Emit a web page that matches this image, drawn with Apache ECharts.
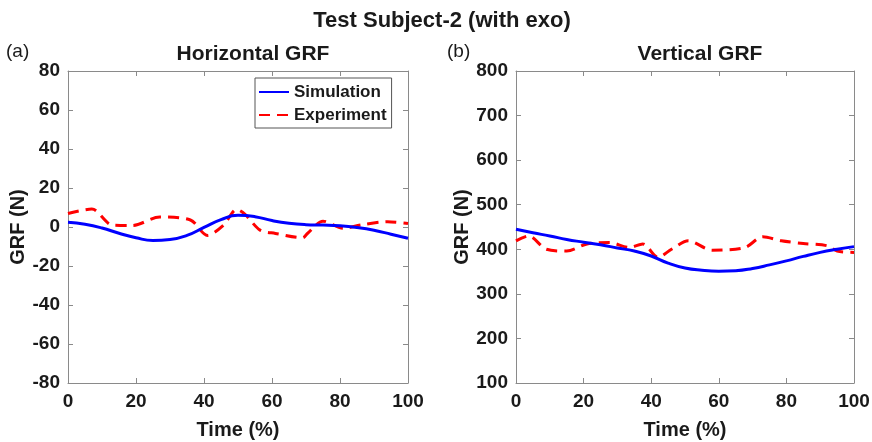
<!DOCTYPE html>
<html>
<head>
<meta charset="utf-8">
<script src="https://cdn.jsdelivr.net/npm/echarts@6/dist/echarts.min.js"></script>
<style>html,body{margin:0;padding:0;background:#fff}#c{width:872px;height:442px}</style>
</head>
<body>
<div id="c"></div>
<script>
// ---- data ----
var simTime = [0,5,10,15,20,25,30,35,40,45,50,55,60,65,70,75,80,85,90,95,100];
var horizSim = [2.4,1.4,-0.5,-3.2,-5.5,-6.9,-6.4,-4.3,-0.2,3.8,6.0,5.3,3.3,1.9,1.2,1.0,0.6,-0.3,-1.7,-3.7,-5.8];
var horizExpTime = [0,7,13,19,27,36,41,45.7,49.6,52,56.5,61,69,70.5,75,81,86,94,100];
var horizExp = [6.9,9.2,1.0,0.8,5.1,3.6,-4.3,0.9,9.0,6.6,-1.6,-3.3,-5.5,-3.2,3.0,-0.7,1.0,2.7,1.8];
var vertSim = [445,437,430,422,416,410,403,396,385,369,358,353,351,352,357,365,374,384,393,400,406];
var vertExpTime = [0,3.7,9,15,21,27.7,33.5,37.5,42,46,51,58,67.7,73,78.5,85,92,95,100];
var vertExp = [419,430,400,396,412,415,404,412,382,400,419,398,404,428,419,413,408,396,393];
var xTicks = {min:0, max:100, interval:20};
var horizTicks = {min:-80, max:80, interval:20};
var vertTicks = {min:100, max:800, interval:100};
var titles = {main:'Test Subject-2 (with exo)', a:'Horizontal GRF', b:'Vertical GRF'};
var seriesNames = ['Simulation','Experiment'];

function pairs(xs, ys){ return xs.map(function(x,i){ return [x, ys[i]]; }); }

var FONT = "'Liberation Sans', Arial, Helvetica, sans-serif";
var TXT = '#1a1a1a';
var AX = '#8a8a8a';

function xAx(grid, pos, showLabel){
  return {
    type:'value', gridIndex:grid, position:pos,
    min:xTicks.min, max:xTicks.max, interval:xTicks.interval,
    name: showLabel ? 'Time (%)' : '', nameLocation:'middle', nameGap:37,
    nameTextStyle:{fontFamily:FONT, fontWeight:'bold', fontSize:20, color:TXT},
    axisLine:{show:true, onZero:false, lineStyle:{color:AX, width:1}},
    axisTick:{show:true, inside:true, length:5, lineStyle:{color:AX}},
    axisLabel:{show:showLabel, margin:9, fontFamily:FONT, fontWeight:'bold', fontSize:19, color:TXT},
    splitLine:{show:false}
  };
}
function yAx(grid, pos, showLabel, t){
  return {
    type:'value', gridIndex:grid, position:pos,
    min:t.min, max:t.max, interval:t.interval,
    name: showLabel ? 'GRF (N)' : '', nameLocation:'middle', nameGap:37,
    nameTextStyle:{fontFamily:FONT, fontWeight:'bold', fontSize:20, color:TXT},
    axisLine:{show:true, onZero:false, lineStyle:{color:AX, width:1}},
    axisTick:{show:true, inside:true, length:5, lineStyle:{color:AX}},
    axisLabel:{show:showLabel, margin:8, fontFamily:FONT, fontWeight:'bold', fontSize:19, color:TXT},
    splitLine:{show:false}
  };
}

var simStyle = {color:'#0000ff', width:3, type:'solid'};
var expStyle = {color:'#ff0000', width:3, type:[11,7]};

var chart = echarts.init(document.getElementById('c'), null, {renderer:'canvas'});
chart.setOption({
  animation:false,
  backgroundColor:'#ffffff',
  grid:[
    {left:68, top:71, width:340, height:312, containLabel:false, outerBoundsMode:'none'},
    {left:516, top:71, width:338, height:312, containLabel:false, outerBoundsMode:'none'}
  ],
  xAxis:[ xAx(0,'bottom',true), xAx(0,'top',false), xAx(1,'bottom',true), xAx(1,'top',false) ],
  yAxis:[ yAx(0,'left',true,horizTicks), yAx(0,'right',false,horizTicks), yAx(1,'left',true,vertTicks), yAx(1,'right',false,vertTicks) ],
  legend:{
    data:seriesNames, orient:'vertical', left:255, top:78,
    itemWidth:30, itemHeight:14, itemGap:3,
    padding:[4,5,3,3],
    itemStyle:{opacity:0},
    backgroundColor:'#fff', borderColor:'#555', borderWidth:1, borderRadius:0,
    textStyle:{fontFamily:FONT, fontWeight:'bold', fontSize:17, color:TXT, lineHeight:20}
  },
  graphic:[
    {type:'text', x:442, y:21, style:{text:titles.main, font:'bold 22px '+FONT, fill:TXT, align:'center', verticalAlign:'middle'}},
    {type:'text', x:253, y:54, style:{text:titles.a, font:'bold 21px '+FONT, fill:TXT, align:'center', verticalAlign:'middle'}},
    {type:'text', x:700, y:54, style:{text:titles.b, font:'bold 21px '+FONT, fill:TXT, align:'center', verticalAlign:'middle'}},
    {type:'text', x:6, y:52, style:{text:'(a)', font:'19px '+FONT, fill:TXT, align:'left', verticalAlign:'middle'}},
    {type:'text', x:447, y:52, style:{text:'(b)', font:'19px '+FONT, fill:TXT, align:'left', verticalAlign:'middle'}}
  ],
  series:[
    {name:seriesNames[0], type:'line', xAxisIndex:0, yAxisIndex:0, data:pairs(simTime,horizSim), smooth:true, symbol:'none', lineStyle:simStyle, itemStyle:{color:'#0000ff'}, z:3},
    {name:seriesNames[1], type:'line', xAxisIndex:0, yAxisIndex:0, data:pairs(horizExpTime,horizExp), smooth:0.3, symbol:'none', lineStyle:expStyle, itemStyle:{color:'#ff0000'}, z:2},
    {name:seriesNames[0], type:'line', xAxisIndex:2, yAxisIndex:2, data:pairs(simTime,vertSim), smooth:true, symbol:'none', lineStyle:simStyle, itemStyle:{color:'#0000ff'}, z:3},
    {name:seriesNames[1], type:'line', xAxisIndex:2, yAxisIndex:2, data:pairs(vertExpTime,vertExp), smooth:0.3, symbol:'none', lineStyle:expStyle, itemStyle:{color:'#ff0000'}, z:2}
  ]
});
</script>
</body>
</html>
